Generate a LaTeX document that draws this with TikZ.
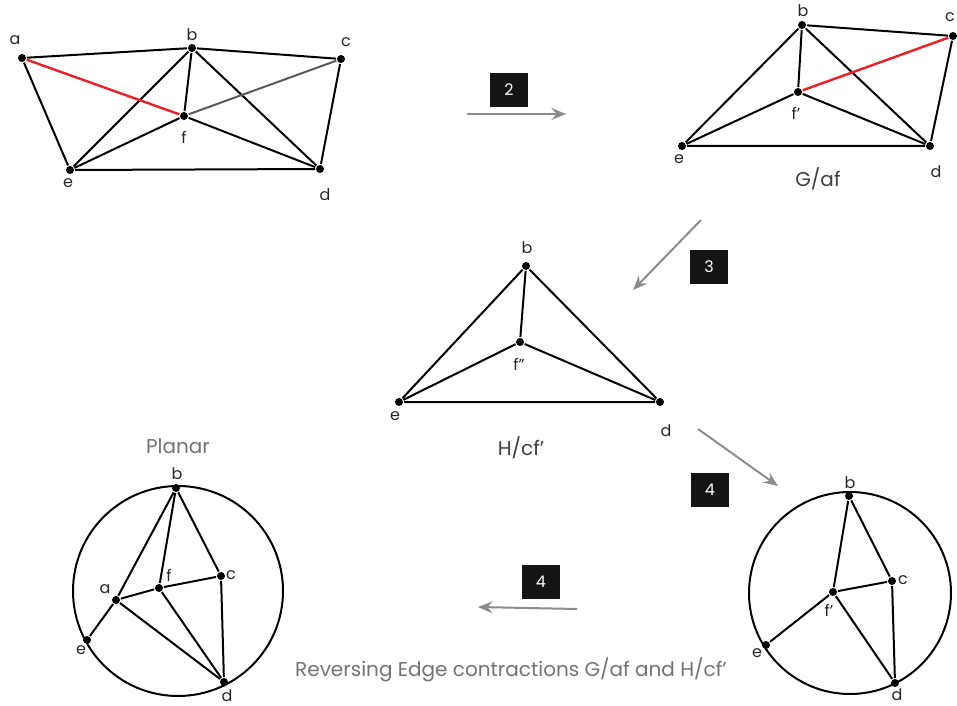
\documentclass[tikz,border=0pt]{standalone}
\usepackage{fontspec}
\setmainfont{Poppins}
\usetikzlibrary{arrows.meta}

\tikzset{every picture/.style={line width=1.5pt}}
\definecolor{edgered}{RGB}{228,34,40}
\tikzset{
  dot/.style={circle,fill=black,inner sep=0pt,minimum size=6pt},
  lbl/.style={inner sep=0.75pt,font=\fontsize{12}{14}\selectfont,text=black!85},
  captext/.style={inner sep=0.75pt,font=\fontsize{15}{18}\selectfont,text=black!55},
  numbox/.style={fill=black!92,text=white,minimum width=28pt,minimum height=26pt,inner sep=0pt,font=\fontsize{12}{14}\selectfont},
  flow/.style={draw=black!45,line width=1.5pt,-{Stealth[length=11pt,width=9pt,inset=4pt]}},
  edge/.style={draw=black,line width=1.5pt},
}

\begin{document}
\begin{tikzpicture}[x=0.75pt,y=0.75pt,yscale=-1,xscale=1]
		\useasboundingbox (0,0) rectangle (957,706);
		
		%Graph G
		\node [dot] (a1) at (22,58) {};
		\node [dot] (b1) at (192,48) {};
		\node [dot] (c1) at (341,59) {};
		\node [dot] (f1) at (184,116) {};
		\node [dot] (e1) at (70,170) {};
		\node [dot] (d1) at (320,169) {};
		\draw [edge] (a1) -- (b1) -- (c1) -- (d1) -- (e1) -- (a1) ;
		\draw [edge] (b1) -- (e1) ;
		\draw [edge] (b1) -- (f1) ;
		\draw [edge] (b1) -- (d1) ;
		\draw [edge] (e1) -- (f1) -- (d1) ;
		\draw [draw=black!65] (f1) -- (c1) ;
		\draw [draw=edgered,line width=1.8pt] (a1) -- (f1) ;
		% Text Node
		\node [lbl] (la1) at (15,40) {a};
		\node [lbl] (lb1) at (192,35) {b};
		\node [lbl] (lc1) at (346,42) {c};
		\node [lbl] (lf1) at (184,137) {f};
		\node [lbl] (le1) at (68,183) {e};
		\node [lbl] (ld1) at (325,195) {d};
		
		%Step 2
		\node [numbox] (n2) at (509,90) {2};
		\coordinate (s2) at (467,114);
		\coordinate (t2) at (566,114);
		\draw [flow] (s2) -- (t2) ;
		
		%Graph G/af
		\node [dot] (b2) at (802,25) {};
		\node [dot] (c2) at (953,36) {};
		\node [dot] (f2) at (798,92) {};
		\node [dot] (e2) at (682,146) {};
		\node [dot] (d2) at (930,146) {};
		\draw [edge] (b2) -- (c2) -- (d2) -- (e2) -- (b2) ;
		\draw [edge] (b2) -- (f2) ;
		\draw [edge] (b2) -- (d2) ;
		\draw [edge] (e2) -- (f2) -- (d2) ;
		\draw [draw=edgered,line width=1.8pt] (f2) -- (c2) ;
		% Text Node
		\node [lbl] (lb2) at (803,11) {b};
		\node [lbl] (lc2) at (950,17) {c};
		\node [lbl] (lf2) at (796,113) {f'};
		\node [lbl] (le2) at (679,159) {e};
		\node [lbl] (ld2) at (936,172) {d};
		\node [captext,text=black!75] (lg2) at (818,179) {G/af};
		
		%Step 3
		\node [numbox] (n3) at (709,267) {3};
		\coordinate (s3) at (701,220);
		\coordinate (t3) at (633,290);
		\draw [flow] (s3) -- (t3) ;
		
		%Graph H/cf'
		\node [dot] (b3) at (526,266) {};
		\node [dot] (f3) at (520,342) {};
		\node [dot] (e3) at (399,402) {};
		\node [dot] (d3) at (660,402) {};
		\draw [edge] (b3) -- (d3) -- (e3) -- (b3) ;
		\draw [edge] (b3) -- (f3) ;
		\draw [edge] (e3) -- (f3) -- (d3) ;
		% Text Node
		\node [lbl] (lb3) at (527,248) {b};
		\node [lbl] (lf3) at (519,364) {f''};
		\node [lbl] (le3) at (395,416) {e};
		\node [lbl] (ld3) at (666,431) {d};
		\node [captext,text=black!75] (lh3) at (521,448) {H/cf'};
		
		%Step 4
		\node [numbox] (n4) at (710,490) {4};
		\coordinate (s4) at (698,429);
		\coordinate (t4) at (778,486);
		\draw [flow] (s4) -- (t4) ;
		
		%Embedding of H
		\coordinate (o4) at (850,593);
		\draw [edge] (o4) circle (101) ;
		\node [dot] (b4) at (849,496) {};
		\node [dot] (c4) at (892,581) {};
		\node [dot] (f4) at (833,592) {};
		\node [dot] (e4) at (766,645) {};
		\node [dot] (d4) at (895,683) {};
		\draw [edge] (b4) -- (f4) -- (c4) -- (b4) ;
		\draw [edge] (f4) -- (e4) ;
		\draw [edge] (f4) -- (d4) -- (c4) ;
		% Text Node
		\node [lbl] (lb4) at (850,483) {b};
		\node [lbl] (lc4) at (903,580) {c};
		\node [lbl] (lf4) at (829,610) {f'};
		\node [lbl] (le4) at (757,653) {e};
		\node [lbl] (ld4) at (897,695) {d};
		
		%Step 4 back
		\node [numbox] (n5) at (541,582) {4};
		\coordinate (s5) at (577,609);
		\coordinate (t5) at (478,607);
		\draw [flow] (s5) -- (t5) ;
		
		%Planar embedding of G
		\coordinate (o5) at (178,591);
		\draw [edge] (o5) circle (105) ;
		\node [dot] (b5) at (176,488) {};
		\node [dot] (c5) at (221,576) {};
		\node [dot] (f5) at (159,588) {};
		\node [dot] (a5) at (116,600) {};
		\node [dot] (e5) at (87,640) {};
		\node [dot] (d5) at (224,682) {};
		\draw [edge] (b5) -- (a5) -- (f5) -- (c5) -- (b5) ;
		\draw [edge] (b5) -- (f5) -- (d5) -- (c5) ;
		\draw [edge] (a5) -- (e5) ;
		\draw [edge] (a5) -- (d5) ;
		% Text Node
		\node [lbl] (lb5) at (177,474) {b};
		\node [lbl] (lc5) at (231,575) {c};
		\node [lbl] (lf5) at (169,575) {f};
		\node [lbl] (la5) at (105,589) {a};
		\node [lbl] (le5) at (81,650) {e};
		\node [lbl] (ld5) at (227,696) {d};
		\node [captext] (lp5) at (178,446) {Planar};
		
		% Text Node
		\node [captext] (lrev) at (511,670) {Reversing Edge contractions G/af and H/cf'};
		
	\end{tikzpicture}
\end{document}
